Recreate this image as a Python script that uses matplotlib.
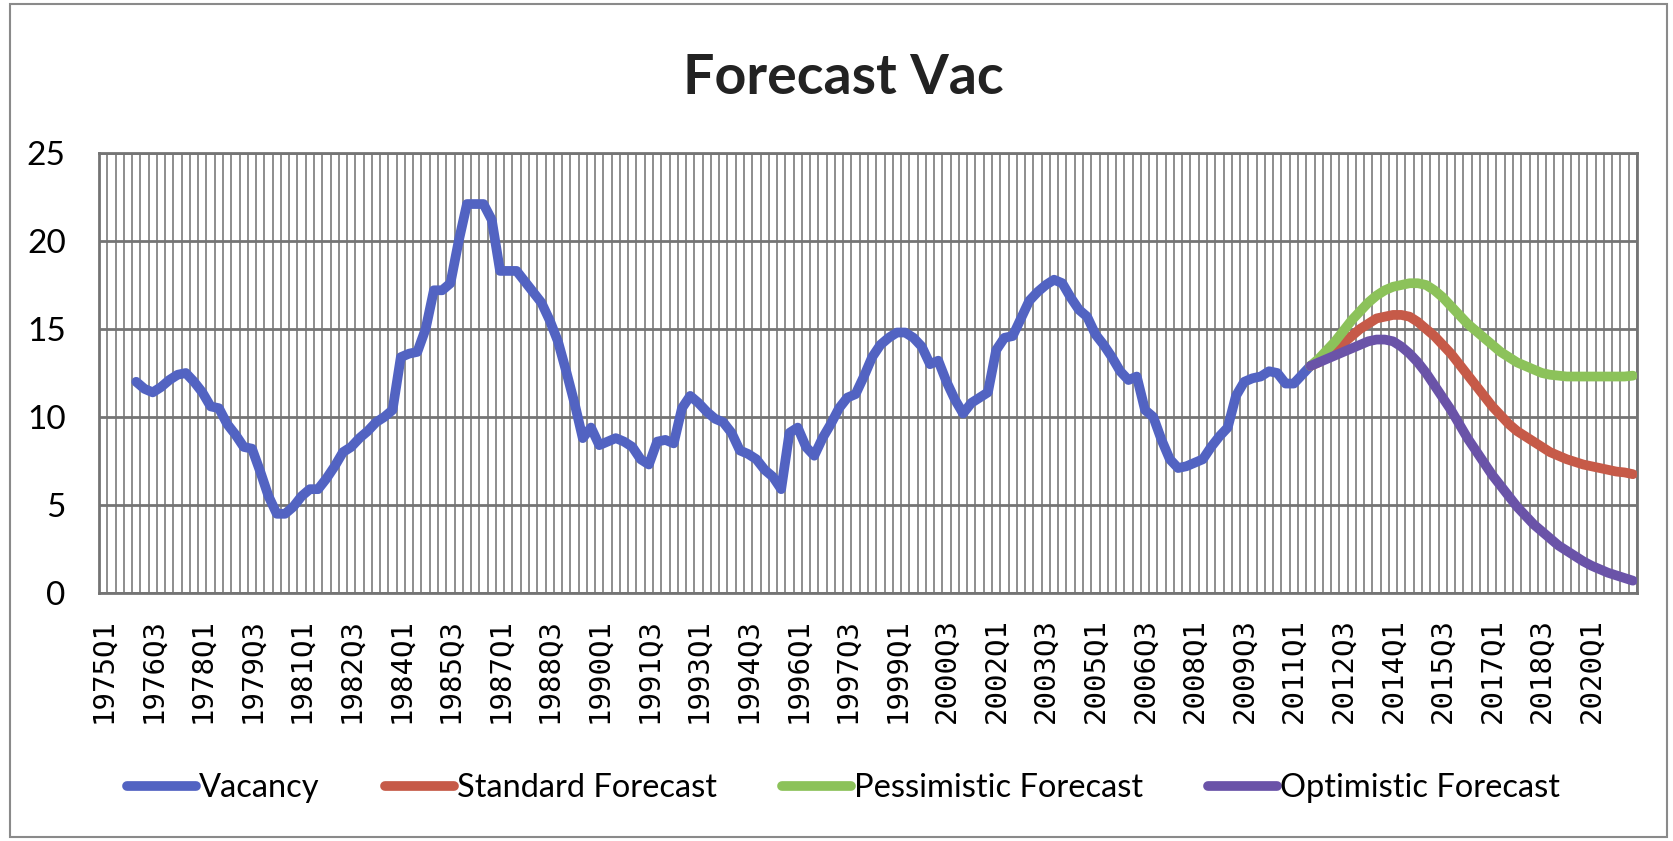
import matplotlib
matplotlib.use('Agg')
import matplotlib.pyplot as plt
import numpy as np
from matplotlib.patches import Rectangle

# quarter labels 1975Q1 .. 2021Q2
first_year = 1975
n_quarters = 186
quarters = [f'{first_year + k // 4}Q{k % 4 + 1}' for k in range(n_quarters)]

# observed vacancy, 1976Q1 .. 2011Q3
vac_start = '1976Q1'
vacancy = [12.0, 11.6, 11.4, 11.7, 12.1, 12.4, 12.5, 12.0, 11.4, 10.6,
           10.5, 9.6, 9.0, 8.3, 8.2, 6.9, 5.5, 4.5, 4.5, 4.9,
           5.5, 5.9, 5.9, 6.5, 7.2, 8.0, 8.3, 8.8, 9.2, 9.7,
           10.0, 10.4, 13.4, 13.6, 13.7, 15.0, 17.2, 17.2, 17.6, 20.0,
           22.1, 22.1, 22.1, 21.2, 18.3, 18.3, 18.3, 17.7, 17.1, 16.5,
           15.5, 14.3, 12.6, 10.8, 8.8, 9.4, 8.4, 8.6, 8.8, 8.6,
           8.3, 7.6, 7.3, 8.6, 8.7, 8.5, 10.5, 11.2, 10.8, 10.3,
           9.9, 9.7, 9.1, 8.1, 7.9, 7.6, 7.0, 6.6, 5.9, 9.1,
           9.4, 8.3, 7.8, 8.8, 9.6, 10.5, 11.1, 11.3, 12.3, 13.4,
           14.1, 14.5, 14.8, 14.8, 14.5, 14.0, 13.0, 13.2, 12.0, 11.0,
           10.2, 10.8, 11.1, 11.4, 13.8, 14.5, 14.6, 15.6, 16.6, 17.1,
           17.5, 17.8, 17.6, 16.8, 16.1, 15.7, 14.7, 14.1, 13.4, 12.6,
           12.1, 12.3, 10.4, 10.0, 8.7, 7.6, 7.1, 7.2, 7.4, 7.6,
           8.3, 8.9, 9.4, 11.2, 12.0, 12.2, 12.3, 12.6, 12.5, 11.9,
           11.9, 12.4, 12.9]

# forecasts, 2011Q3 .. 2021Q2
fc_start = '2011Q3'
standard = [12.9, 13.1, 13.4, 13.8, 14.2, 14.6, 15.0, 15.3, 15.6, 15.7,
            15.8, 15.8, 15.7, 15.4, 15.0, 14.6, 14.1, 13.6, 13.0, 12.4,
            11.8, 11.2, 10.6, 10.1, 9.6, 9.2, 8.9, 8.6, 8.3, 8.0,
            7.8, 7.6, 7.45, 7.3, 7.2, 7.1, 7.0, 6.9, 6.85, 6.75]
pessimistic = [12.9, 13.3, 13.8, 14.3, 14.9, 15.5, 16.0, 16.5, 16.9, 17.2,
               17.4, 17.5, 17.6, 17.6, 17.5, 17.2, 16.8, 16.3, 15.8, 15.3,
               14.9, 14.5, 14.1, 13.7, 13.4, 13.1, 12.9, 12.7, 12.5, 12.4,
               12.35, 12.3, 12.3, 12.3, 12.3, 12.3, 12.3, 12.3, 12.3, 12.35]
optimistic = [12.9, 13.1, 13.3, 13.5, 13.7, 13.9, 14.1, 14.3, 14.4, 14.4,
              14.3, 14.0, 13.6, 13.1, 12.5, 11.8, 11.1, 10.4, 9.6, 8.8,
              8.1, 7.4, 6.7, 6.1, 5.5, 4.9, 4.4, 3.9, 3.5, 3.1,
              2.7, 2.4, 2.1, 1.8, 1.55, 1.35, 1.15, 1.0, 0.85, 0.7]

names = ['Vacancy', 'Standard Forecast', 'Pessimistic Forecast', 'Optimistic Forecast']
colors = ['#5263C2', '#C65A48', '#8CC25A', '#6A53A8']

W, H = 1674, 841
fig = plt.figure(figsize=(W / 100, H / 100), dpi=100)
ax = fig.add_axes([99 / W, 1 - 593 / H, (1637 - 99) / W, (593 - 153) / H])

i0 = quarters.index(vac_start)
j0 = quarters.index(fc_start)
lw = 7
ax.plot(np.arange(i0, i0 + len(vacancy)), vacancy, color=colors[0], lw=lw,
        solid_capstyle='round', solid_joinstyle='round', label=names[0], zorder=3)
for vals, name, c in zip([standard, pessimistic, optimistic], names[1:], colors[1:]):
    ax.plot(np.arange(j0, j0 + len(vals)), vals, color=c, lw=lw,
            solid_capstyle='round', solid_joinstyle='round', label=name, zorder=3)

ax.set_xlim(-0.5, n_quarters - 0.5)
ax.set_ylim(0, 25)
ax.set_yticks(range(0, 26, 5))
ax.set_xticks(range(0, n_quarters, 6))
ax.set_xticklabels(quarters[::6], rotation=90, family='DejaVu Sans Mono', fontsize=21)
ax.set_xticks(np.arange(-0.5, n_quarters, 1.0), minor=True)
ax.tick_params(axis='x', which='both', length=0, pad=18)
ax.tick_params(axis='y', length=0, pad=24, labelsize=24)
for t in ax.get_yticklabels():
    t.set_family('Lato')

ax.grid(axis='x', which='minor', color='#858585', lw=1.3, zorder=1)
ax.grid(axis='y', which='major', color='#747474', lw=2.0, zorder=1)
for s in ax.spines.values():
    s.set_color('#747474')
    s.set_linewidth(2.0)

fig.text(843 / W, 1 - 78 / H, 'Forecast Vac', ha='center', va='center',
         fontsize=40, fontweight='bold', family='Lato', color='#222222')

fig.legend(loc='center', bbox_to_anchor=(0.504, 1 - 788 / H), ncol=4, frameon=False,
           prop={'family': 'Lato', 'size': 23.5}, handlelength=2.1, handletextpad=0.1,
           columnspacing=2.0)

fig.patches.append(Rectangle((10 / W, 4 / H), (1667 - 10) / W, (837 - 4) / H,
                             transform=fig.transFigure, fill=False,
                             edgecolor='#8a8a8a', lw=1.5))

fig.savefig('out.png', dpi=100, facecolor='white')
